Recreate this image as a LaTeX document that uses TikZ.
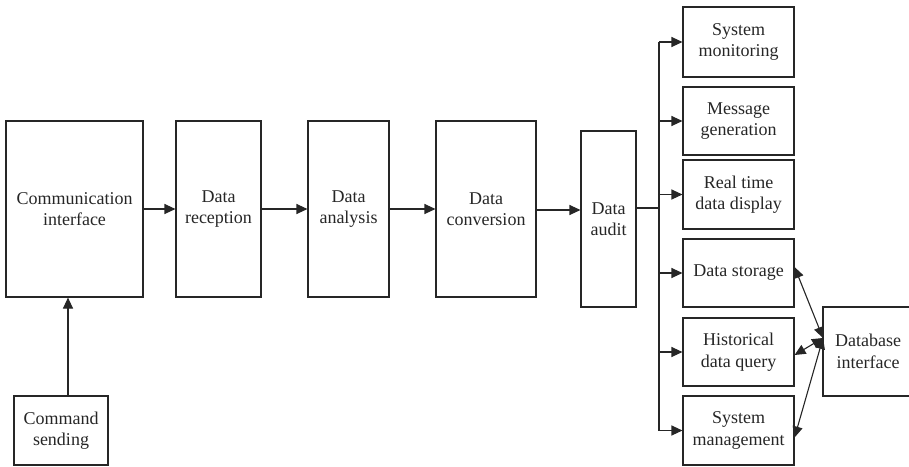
\documentclass[tikz,border=0pt]{standalone}
\usepackage{fontspec}
\setmainfont{Liberation Serif}
\usetikzlibrary{arrows.meta}
\begin{document}
\begin{tikzpicture}[x=1pt,y=-1pt,
  box/.style={draw=black!85,line width=1.1pt,inner sep=0pt,align=center,
    font=\fontsize{18}{21.5}\selectfont,text=black!85},
  conn/.style={draw=black!85,line width=1.1pt,-{Triangle[length=11pt,width=10pt]}},
  dconn/.style={draw=black!85,line width=1.1pt,{Triangle[length=11pt,width=10pt]}-{Triangle[length=11pt,width=10pt]}}]
\useasboundingbox (0,0) rectangle (909,466);
\node[box,minimum width=137pt,minimum height=176pt] (comm) at (74.5,209) {Communication\\interface};
\node[box,minimum width=85pt,minimum height=176pt] (rec) at (218.5,209) {Data\\reception};
\node[box,minimum width=81pt,minimum height=176pt] (ana) at (348.5,209) {Data\\analysis};
\node[box,minimum width=100pt,minimum height=176pt] (conv) at (486,209) {Data\\conversion};
\node[box,minimum width=55pt,minimum height=176pt] (aud) at (608.5,219) {Data\\audit};
\node[box,minimum width=94pt,minimum height=69pt] (cmd) at (61,430.5) {Command\\sending};
\node[box,minimum width=111pt,minimum height=70pt] (sm) at (738.5,42) {System\\monitoring};
\node[box,minimum width=111pt,minimum height=68pt] (mg) at (738.5,121) {Message\\generation};
\node[box,minimum width=111pt,minimum height=69pt] (rt) at (738.5,194.5) {Real time\\data display};
\node[box,minimum width=111pt,minimum height=68pt] (ds) at (738.5,273) {Data storage};
\node[box,minimum width=111pt,minimum height=68pt] (hq) at (738.5,352) {Historical\\data query};
\node[box,minimum width=111pt,minimum height=69pt] (smg) at (738.5,430.5) {System\\management};
\node[box,minimum width=90pt,minimum height=89pt] (db) at (868,351.5) {Database\\interface};
\draw[conn] (comm.east) -- (rec.west);
\draw[conn] (rec.east) -- (ana.west);
\draw[conn] (ana.east) -- (conv.west);
\draw[conn] ([yshift=-1pt]conv.east) -- ([yshift=-1pt]conv.east -| aud.west);
\draw[conn] ([xshift=7pt]cmd.north) -- ([xshift=7pt]cmd.north |- comm.south);
\coordinate (trunk) at (659,208);
\draw[draw=black!85,line width=1.1pt] (aud.east |- trunk) -- (trunk);
\draw[draw=black!85,line width=1.1pt] (trunk |- sm.west) -- (trunk |- smg.west);
\foreach \n in {sm,mg,rt,ds,hq,smg}{\draw[conn] (trunk |- \n.west) -- (\n.west);}
\coordinate (dbp) at (823,338);
\draw[dconn] ([yshift=6pt]ds.east) -- (dbp);
\draw[dconn] ([yshift=-3pt]hq.east) -- (dbp);
\draw[dconn] ([yshift=-7pt]smg.east) -- (dbp);
\end{tikzpicture}
\end{document}
